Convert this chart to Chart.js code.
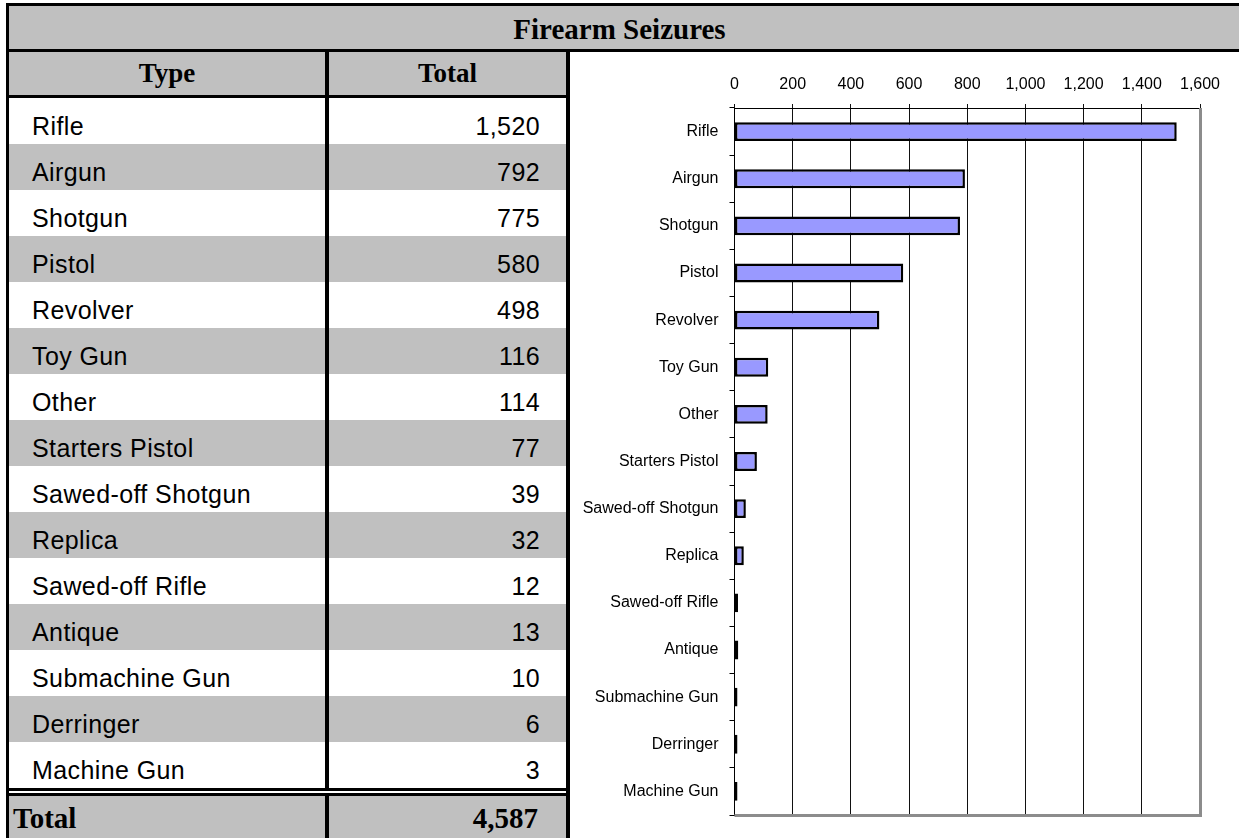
<!DOCTYPE html>
<html lang="en">

<head>
  <meta charset="UTF-8">
  <title>Firearm Seizures</title>
  <script src="https://cdn.jsdelivr.net/npm/chart.js"></script>
  <style>
    body {
      margin: 0;
      background: #fff;
    }

    .pagina {
      position: relative;
      width: 1239px;
      height: 838px;
      overflow: hidden;
      background: #fff;
    }

    .titulo {
      position: absolute;
      left: 6px;
      top: 3px;
      width: 1260px;
      height: 43px;
      background: #c0c0c0;
      border-top: 3px solid #000;
      border-bottom: 3px solid #000;
      border-left: 3px solid #000;
    }

    .titulo span {
      position: absolute;
      left: -9px;
      width: 1239px;
      top: 2px;
      text-align: center;
      font: bold 29px "Liberation Serif", "Times New Roman", serif;
      line-height: 43px;
      color: #000;
    }

    .tabela {
      position: absolute;
      left: 6px;
      top: 52px;
      width: 557px;
      border-left: 3px solid #000;
      border-right: 4px solid #000;
    }

    .linha {
      display: flex;
      height: 46px;
      align-items: stretch;
    }

    .linha div {
      display: flex;
      align-items: center;
      box-sizing: border-box;
    }

    .linha .tipo {
      width: 320px;
      border-right: 4px solid #000;
      padding-left: 23px;
    }

    .linha .total {
      width: 237px;
      justify-content: flex-end;
      padding-right: 26px;
    }

    .cabecalho {
      height: 43px;
      background: #c0c0c0;
      border-bottom: 3px solid #000;
      font: bold 27px "Liberation Serif", "Times New Roman", serif;
    }

    .cabecalho .tipo,
    .cabecalho .total {
      justify-content: center;
      padding: 0;
    }

    .dado {
      font: 25px "Liberation Sans", Arial, sans-serif;
      letter-spacing: 0.4px;
    }

    .dado div {
      padding-top: 10px;
    }

    .dado.cinza {
      background: #c0c0c0;
    }

    .dado.ultima {
      height: 46px;
      border-bottom: 8px double #000;
    }

    .rodape {
      height: 50px;
      background: #c0c0c0;
      font: bold 29px "Liberation Serif", "Times New Roman", serif;
    }

    .rodape div {
      padding-bottom: 6px;
    }

    .rodape .tipo {
      padding-left: 4px;
    }

    .rodape .total {
      padding-right: 28px;
    }

    .grafico {
      position: absolute;
      left: 570px;
      top: 52px;
    }
  </style>
</head>

<body>
  <div class="pagina">
    <div class="titulo"><span>Firearm Seizures</span></div>

    <div class="tabela" id="tabela">
      <div class="linha cabecalho">
        <div class="tipo">Type</div>
        <div class="total">Total</div>
      </div>
    </div>

    <div class="grafico">
      <canvas id="graficoBarras" width="669" height="786"></canvas>
    </div>
  </div>

  <script>
    const tipos = ['Rifle', 'Airgun', 'Shotgun', 'Pistol', 'Revolver', 'Toy Gun', 'Other', 'Starters Pistol',
      'Sawed-off Shotgun', 'Replica', 'Sawed-off Rifle', 'Antique', 'Submachine Gun', 'Derringer', 'Machine Gun'];
    const totais = [1520, 792, 775, 580, 498, 116, 114, 77, 39, 32, 12, 13, 10, 6, 3];

    // eixo de valores (em cima)
    const eixoMin = 0;
    const eixoMax = 1600;
    const eixoPasso = 200;

    const formatar = (n) => n.toLocaleString('en-US');

    // monta a tabela a partir dos arrays
    const tabela = document.getElementById('tabela');
    tipos.forEach((tipo, i) => {
      const linha = document.createElement('div');
      linha.className = 'linha dado' + (i % 2 === 1 ? ' cinza' : '') + (i === tipos.length - 1 ? ' ultima' : '');
      linha.innerHTML = '<div class="tipo">' + tipo + '</div><div class="total">' + formatar(totais[i]) + '</div>';
      tabela.appendChild(linha);
    });

    const somaGeral = totais.reduce((a, b) => a + b, 0);
    const rodape = document.createElement('div');
    rodape.className = 'linha rodape';
    rodape.innerHTML = '<div class="tipo">Total</div><div class="total">' + formatar(somaGeral) + '</div>';
    tabela.appendChild(rodape);

    // moldura cinza do lado direito e embaixo da area do grafico
    const moldura = {
      id: 'moldura',
      afterDraw(chart) {
        const { ctx, chartArea } = chart;
        ctx.save();
        ctx.strokeStyle = '#8c8c8c';
        ctx.lineWidth = 3;
        ctx.beginPath();
        ctx.moveTo(chartArea.right + 0.5, chartArea.top);
        ctx.lineTo(chartArea.right + 0.5, chartArea.bottom + 0.5);
        ctx.lineTo(chartArea.left, chartArea.bottom + 0.5);
        ctx.stroke();
        ctx.restore();
      }
    };

    const fonteEixo = { family: '"Liberation Sans", Arial, sans-serif', size: 16 };

    const ctxBarras = document.getElementById('graficoBarras');
    new Chart(ctxBarras, {
      type: 'bar',
      data: {
        labels: tipos,
        datasets: [{
          label: 'Total',
          data: totais,
          backgroundColor: '#9999ff',
          borderColor: '#000',
          borderWidth: 2.5,
          borderSkipped: false,
          minBarLength: 3,
          barPercentage: 0.4,
          categoryPercentage: 1
        }]
      },
      options: {
        indexAxis: 'y',
        responsive: false,
        animation: false,
        layout: {
          padding: { left: 0, right: 39, top: 0, bottom: 23 }
        },
        plugins: {
          legend: { display: false },
          tooltip: { enabled: false }
        },
        scales: {
          x: {
            position: 'top',
            min: eixoMin,
            max: eixoMax,
            ticks: {
              stepSize: eixoPasso,
              color: '#000',
              font: fonteEixo,
              padding: 10,
              callback: (v) => formatar(v)
            },
            grid: { color: '#111', tickLength: 4 },
            border: { color: '#000' },
            afterFit: (s) => { s.height = 56; }
          },
          y: {
            ticks: {
              color: '#000',
              font: fonteEixo,
              padding: 11
            },
            grid: { drawOnChartArea: false, color: '#000', tickLength: 5 },
            border: { color: '#000' },
            afterFit: (s) => { s.width = 164.5; }
          }
        }
      },
      plugins: [moldura]
    });
  </script>
</body>

</html>
